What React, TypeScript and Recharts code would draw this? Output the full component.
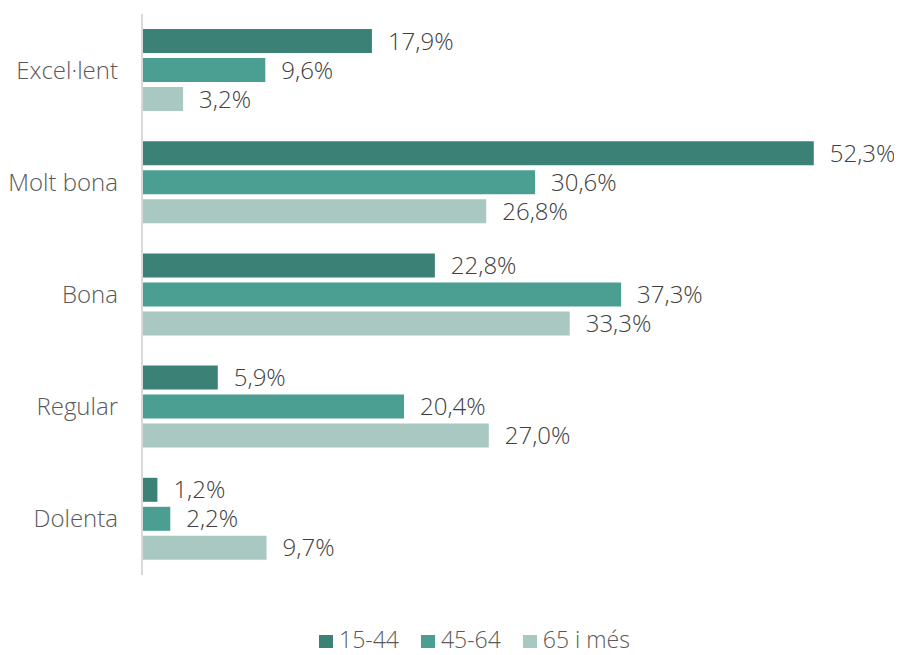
import React from 'react';
import { BarChart, Bar, XAxis, YAxis, Legend, LabelList } from 'recharts';

const categories = ['Excel·lent', 'Molt bona', 'Bona', 'Regular', 'Dolenta'];
const age15to44 = [17.9, 52.3, 22.8, 5.9, 1.2];
const age45to64 = [9.6, 30.6, 37.3, 20.4, 2.2];
const age65plus = [3.2, 26.8, 33.3, 27.0, 9.7];

const seriesNames = ['15-44', '45-64', '65 i més'];
const colors = ['#3c8176', '#4a9e92', '#a9c8c2'];

const data = categories.map((c, i) => ({
  name: c,
  a: age15to44[i],
  b: age45to64[i],
  c: age65plus[i],
}));

const FONT = '"Open Sans", Lato, sans-serif';
const WEIGHT = 300;
const fmt = (v: any) => `${Number(v).toFixed(1).replace('.', ',')}%`;

// legend drawn as plain squares + text
const LegendBox = () => (
  <div style={{ display: 'flex', alignItems: 'center', height: 22, paddingLeft: 311 }}>
    {seriesNames.map((n, i) => (
      <div key={n} style={{ display: 'flex', alignItems: 'center', marginRight: 22 }}>
        <span style={{ width: 14, height: 13, background: colors[i], display: 'inline-block', marginRight: 6, marginTop: 4 }} />
        <span style={{ color: '#595959', fontSize: 23, fontWeight: WEIGHT, fontFamily: FONT, lineHeight: '22px' }}>{n}</span>
      </div>
    ))}
  </div>
);

export default function App() {
  const keys = ['a', 'b', 'c'];
  return (
    <div style={{ width: 894, height: 647, fontFamily: FONT }}>
      <BarChart
        width={894}
        height={647}
        data={data}
        layout="vertical"
        margin={{ top: 6, right: 15, left: 0, bottom: 58 }}
        barSize={24}
        barGap={5}
      >
        <XAxis type="number" domain={[0, 58]} hide />
        <YAxis
          type="category"
          dataKey="name"
          width={134}
          axisLine={{ stroke: '#d9d9d9', strokeWidth: 2 }}
          tickLine={false}
          tickSize={0}
          tickMargin={24}
          tick={{ fill: '#595959', fontSize: 24, fontWeight: WEIGHT, fontFamily: FONT }}
        />
        <Legend
          verticalAlign="bottom"
          content={<LegendBox />}
          wrapperStyle={{ top: 620, bottom: 'auto', height: 22, left: 0, width: 894 }}
        />
        {keys.map((k, i) => (
          <Bar key={k} dataKey={k} name={seriesNames[i]} fill={colors[i]} isAnimationActive={false}>
            <LabelList
              dataKey={k}
              position="right"
              offset={16}
              formatter={fmt}
              fill="#404040"
              fontSize={24}
              fontWeight={WEIGHT}
              fontFamily={FONT}
            />
          </Bar>
        ))}
      </BarChart>
    </div>
  );
}
